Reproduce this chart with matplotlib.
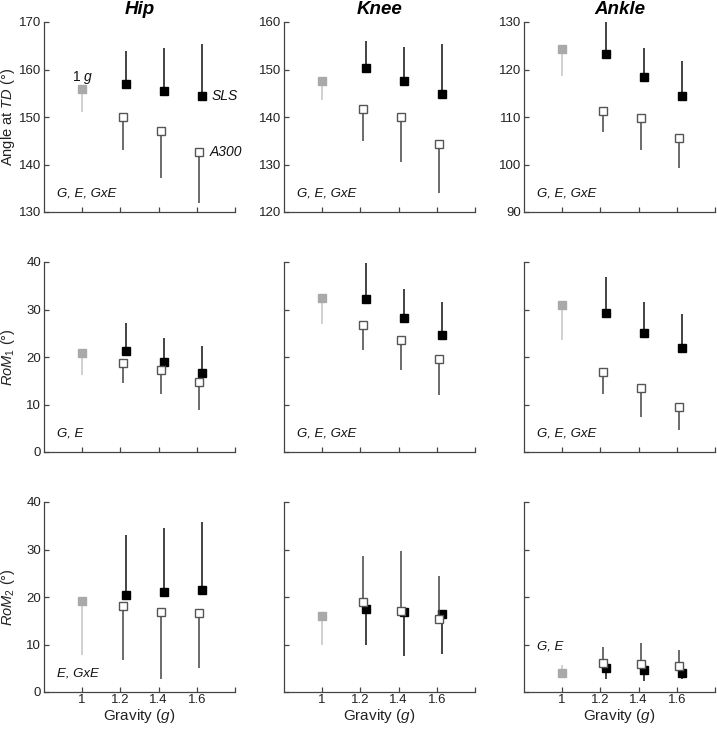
import matplotlib
matplotlib.use("Agg")
import matplotlib.pyplot as plt

plt.rcParams['font.family'] = ['Liberation Sans', 'DejaVu Sans']
plt.rcParams['mathtext.fontset'] = 'custom'
plt.rcParams['mathtext.rm'] = 'Liberation Sans'
plt.rcParams['mathtext.it'] = 'Liberation Sans:italic'
plt.rcParams['mathtext.bf'] = 'Liberation Sans:bold'

# ---------------- data ----------------
gravity = [1.2, 1.4, 1.6]
joints = ["Hip", "Knee", "Ankle"]
xtick_vals = [1.0, 1.2, 1.4, 1.6, 1.8]
xtick_labels = ["1", "1.2", "1.4", "1.6", ""]

# Angle at TD
hip_td_1g, hip_td_1g_err = 155.9, 4.8
hip_td_sls = [156.9, 155.4, 154.5]; hip_td_sls_err = [6.9, 9.2, 10.9]
hip_td_a300 = [150.1, 147.1, 142.7]; hip_td_a300_err = [7.0, 9.9, 10.9]

knee_td_1g, knee_td_1g_err = 147.5, 4.0
knee_td_sls = [150.4, 147.5, 144.9]; knee_td_sls_err = [5.5, 7.2, 10.5]
knee_td_a300 = [141.7, 140.0, 134.4]; knee_td_a300_err = [6.7, 9.5, 10.3]

ankle_td_1g, ankle_td_1g_err = 124.3, 5.6
ankle_td_sls = [123.3, 118.4, 114.5]; ankle_td_sls_err = [6.6, 6.1, 7.3]
ankle_td_a300 = [111.2, 109.7, 105.5]; ankle_td_a300_err = [4.4, 6.6, 6.3]

# RoM1
hip_r1_1g, hip_r1_1g_err = 20.9, 4.6
hip_r1_sls = [21.3, 18.9, 16.7]; hip_r1_sls_err = [5.8, 5.2, 5.6]
hip_r1_a300 = [18.8, 17.2, 14.75]; hip_r1_a300_err = [4.3, 4.9, 5.85]

knee_r1_1g, knee_r1_1g_err = 32.5, 5.65
knee_r1_sls = [32.3, 28.3, 24.7]; knee_r1_sls_err = [7.4, 6.1, 6.9]
knee_r1_a300 = [26.8, 23.5, 19.5]; knee_r1_a300_err = [5.4, 6.2, 7.4]

ankle_r1_1g, ankle_r1_1g_err = 30.9, 7.4
ankle_r1_sls = [29.2, 25.0, 21.9]; ankle_r1_sls_err = [7.6, 6.6, 7.1]
ankle_r1_a300 = [16.8, 13.4, 9.4]; ankle_r1_a300_err = [4.6, 6.0, 4.7]

# RoM2
hip_r2_1g, hip_r2_1g_err = 19.1, 11.4
hip_r2_sls = [20.4, 21.0, 21.5]; hip_r2_sls_err = [12.6, 13.6, 14.3]
hip_r2_a300 = [18.2, 16.8, 16.7]; hip_r2_a300_err = [11.5, 14.0, 11.6]

knee_r2_1g, knee_r2_1g_err = 15.9, 5.9
knee_r2_sls = [17.4, 16.8, 16.5]; knee_r2_sls_err = [7.6, 9.15, 8.4]
knee_r2_a300 = [18.95, 17.1, 15.4]; knee_r2_a300_err = [9.75, 12.6, 9.1]

ankle_r2_1g, ankle_r2_1g_err = 3.9, 1.8
ankle_r2_sls = [5.1, 4.6, 4.0]; ankle_r2_sls_err = [2.4, 2.35, 1.3]
ankle_r2_a300 = [6.2, 5.8, 5.5]; ankle_r2_a300_err = [3.3, 4.45, 3.4]

# error bar directions (+1 up, -1 down) for (1g, SLS, A300)
dirs = {
    (0, 0): (-1, 1, -1), (0, 1): (-1, 1, -1), (0, 2): (-1, 1, -1),
    (1, 0): (-1, 1, -1), (1, 1): (-1, 1, -1), (1, 2): (-1, 1, -1),
    (2, 0): (-1, 1, -1), (2, 1): (-1, -1, 1), (2, 2): (1, -1, 1),
}

panels = [
    [(hip_td_1g, hip_td_1g_err, hip_td_sls, hip_td_sls_err, hip_td_a300, hip_td_a300_err),
     (knee_td_1g, knee_td_1g_err, knee_td_sls, knee_td_sls_err, knee_td_a300, knee_td_a300_err),
     (ankle_td_1g, ankle_td_1g_err, ankle_td_sls, ankle_td_sls_err, ankle_td_a300, ankle_td_a300_err)],
    [(hip_r1_1g, hip_r1_1g_err, hip_r1_sls, hip_r1_sls_err, hip_r1_a300, hip_r1_a300_err),
     (knee_r1_1g, knee_r1_1g_err, knee_r1_sls, knee_r1_sls_err, knee_r1_a300, knee_r1_a300_err),
     (ankle_r1_1g, ankle_r1_1g_err, ankle_r1_sls, ankle_r1_sls_err, ankle_r1_a300, ankle_r1_a300_err)],
    [(hip_r2_1g, hip_r2_1g_err, hip_r2_sls, hip_r2_sls_err, hip_r2_a300, hip_r2_a300_err),
     (knee_r2_1g, knee_r2_1g_err, knee_r2_sls, knee_r2_sls_err, knee_r2_a300, knee_r2_a300_err),
     (ankle_r2_1g, ankle_r2_1g_err, ankle_r2_sls, ankle_r2_sls_err, ankle_r2_a300, ankle_r2_a300_err)],
]

ylims = [[(130, 170), (120, 160), (90, 130)],
         [(0, 40), (0, 40), (0, 40)],
         [(0, 40), (0, 40), (0, 40)]]

stats_text = [["G, E, GxE", "G, E, GxE", "G, E, GxE"],
              ["G, E", "G, E, GxE", "G, E, GxE"],
              ["E, GxE", None, "G, E"]]
stats_y = [[0.1, 0.1, 0.1], [0.1, 0.1, 0.1], [0.1, None, 0.24]]

ylabels = [r"Angle at $TD$ (°)", r"$RoM_{1}$ (°)", r"$RoM_{2}$ (°)"]

# ---------------- figure ----------------
fig = plt.figure(figsize=(7.17, 7.29), dpi=100)
lefts = [44 / 717, 284 / 717, 524 / 717]
bottoms = [1 - 212 / 729, 1 - 452 / 729, 1 - 692 / 729]
w, h = 191 / 717, 190 / 729

spine_c = "#444444"
msize = 5.6

def err_pair(errs, d):
    errs = list(errs) if hasattr(errs, "__len__") else [errs]
    zeros = [0] * len(errs)
    return [errs, zeros] if d < 0 else [zeros, errs]

for r in range(3):
    for c in range(3):
        ax = fig.add_axes([lefts[c], bottoms[r], w, h])
        g1, g1e, sls, slse, a3, a3e = panels[r][c]
        d1, ds, da = dirs[(r, c)]
        x_sls = [g + 0.027 for g in gravity]
        x_a3 = [g + 0.014 for g in gravity]
        ax.errorbar(x_sls, sls, yerr=err_pair(slse, ds), fmt='s', ms=msize,
                    mfc='black', mec='black', ecolor='#111111', elinewidth=1.1,
                    capsize=0, zorder=3)
        ax.errorbar(x_a3, a3, yerr=err_pair(a3e, da), fmt='s', ms=msize,
                    mfc='white', mec='#555555', mew=1.0, ecolor='#444444',
                    elinewidth=1.1, capsize=0, zorder=4)
        ax.errorbar([1.0], [g1], yerr=err_pair(g1e, d1), fmt='s', ms=msize,
                    mfc='#a9a9a9', mec='#a9a9a9', ecolor='#c4c4c4',
                    elinewidth=1.1, capsize=0, zorder=3)

        ax.set_xlim(0.8, 1.8)
        ax.set_ylim(*ylims[r][c])
        lo, hi = ylims[r][c]
        ax.set_yticks(range(lo, hi + 1, 10))
        ax.set_xticks(xtick_vals)
        if r == 2:
            ax.set_xticklabels(xtick_labels)
            ax.set_xlabel(r"Gravity ($g$)", fontsize=11, color='#222222', labelpad=0.5)
        else:
            ax.set_xticklabels([])
        if r > 0 and c > 0:
            ax.set_yticklabels([])
        for s in ['top', 'right']:
            ax.spines[s].set_visible(False)
        for s in ['left', 'bottom']:
            ax.spines[s].set_color(spine_c)
            ax.spines[s].set_linewidth(0.9)
        ax.tick_params(direction='in', length=3.5, width=0.9, color=spine_c,
                       labelsize=9.5, labelcolor='#222222', pad=2.2)
        ax.tick_params(axis='x', pad=1.5)
        if c == 0:
            ax.set_ylabel(ylabels[r], fontsize=10.5, color='#222222')
            ax.yaxis.set_label_coords(-0.14, 0.5)
        if r == 0:
            ax.set_title(joints[c], fontsize=13.5, fontweight='bold',
                         fontstyle='italic', pad=6)
        if stats_text[r][c]:
            ax.text(0.07, stats_y[r][c], stats_text[r][c], transform=ax.transAxes,
                    fontsize=9.5, fontstyle='italic', color='#111111', va='center')
        if r == 0 and c == 0:
            ax.text(1.0, 158.3, r"1 $g$", fontsize=10, ha='center', va='center',
                    color='#111111')
            ax.text(1.675, sls[2], "SLS", fontsize=10, fontstyle='italic',
                    va='center', color='#111111')
            ax.text(1.665, a3[2], "A300", fontsize=10, fontstyle='italic',
                    va='center', color='#111111')

fig.savefig("out.png", dpi=100)
